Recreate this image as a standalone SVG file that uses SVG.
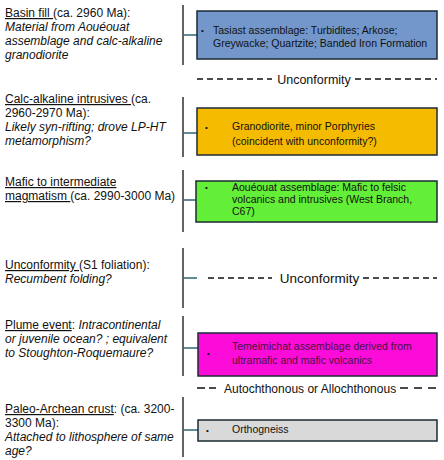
<svg xmlns="http://www.w3.org/2000/svg" width="444" height="460" viewBox="0 0 444 460">
<style>
text{font-family:"Liberation Sans",Arial,sans-serif;fill:#111}
.lt{font-size:12px}
.it{font-style:italic}
.u{text-decoration:underline}
.bt{font-size:10.5px}
.bul{font-size:8px}
.box{stroke:#1d2b33;stroke-width:1.5}
.vl{stroke:#111;stroke-width:1.3;fill:none}
.cn{stroke:#2f6575;stroke-width:1.6;fill:none}
.dash{stroke:#111;stroke-width:1.5;stroke-dasharray:6 4;fill:none}
.sep{font-size:12.5px}
</style>
<rect width="444" height="460" fill="#fff"/>
<g id="connectors">
<path class="vl" d="M183 5V65M183 97V157M183 170V232M183 248V308M183 316V376M183 397V457"/>
<path class="cn" d="M183 35H197M183 133H197M183 200H196M183 278H197M183 348H198M183 430H198"/>
</g>
<g id="label-basin">
<text class="lt" x="5" y="17"><tspan class="u">Basin fill </tspan>(ca. 2960 Ma):</text>
<text class="lt it" x="5" y="31">Material from Aouéouat</text>
<text class="lt it" x="5" y="45">assemblage and calc-alkaline</text>
<text class="lt it" x="5" y="59">granodiorite</text>
</g>
<g id="label-calc">
<text class="lt" x="5" y="103"><tspan class="u">Calc-alkaline intrusives </tspan>(ca.</text>
<text class="lt" x="5" y="117">2960-2970 Ma):</text>
<text class="lt it" x="5" y="131">Likely syn-rifting; drove LP-HT</text>
<text class="lt it" x="5" y="145">metamorphism?</text>
</g>
<g id="label-mafic">
<text class="lt" x="5" y="186"><tspan class="u">Mafic to intermediate</tspan></text>
<text class="lt" x="5" y="200"><tspan class="u">magmatism </tspan>(ca. 2990-3000 Ma)</text>
</g>
<g id="label-unconf">
<text class="lt" x="5" y="269"><tspan class="u">Unconformity </tspan>(S1 foliation):</text>
<text class="lt it" x="5" y="283">Recumbent folding?</text>
</g>
<g id="label-plume">
<text class="lt" x="5" y="329"><tspan class="u">Plume event</tspan>: <tspan class="it">Intracontinental</tspan></text>
<text class="lt it" x="5" y="343">or juvenile ocean? ; equivalent</text>
<text class="lt it" x="5" y="357">to Stoughton-Roquemaure?</text>
</g>
<g id="label-paleo">
<text class="lt" x="5" y="413"><tspan class="u">Paleo-Archean crust</tspan>: (ca. 3200-</text>
<text class="lt" x="5" y="427">3300 Ma):</text>
<text class="lt it" x="5" y="441">Attached to lithosphere of same</text>
<text class="lt it" x="5" y="455">age?</text>
</g>
<g id="box-tasiast">
<rect class="box" x="197" y="11" width="240" height="48" fill="#7397cb"/>
<text class="bul" x="201" y="33">•</text>
<text class="bt" x="213" y="34">Tasiast assemblage: Turbidites; Arkose;</text>
<text class="bt" x="213" y="47">Greywacke; Quartzite; Banded Iron Formation</text>
</g>
<g id="sep-1">
<path class="dash" d="M197 79H272M355 79H437"/>
<text class="sep" x="314" y="83.5" text-anchor="middle">Unconformity</text>
</g>
<g id="box-granodiorite">
<rect class="box" x="197" y="108" width="240" height="47" fill="#f5bb00"/>
<text class="bul" x="205" y="130">•</text>
<text class="bt" x="232" y="129.5">Granodiorite, minor Porphyries</text>
<text class="bt" x="232" y="144.5">(coincident with unconformity?)</text>
</g>
<g id="box-aoueouat">
<rect class="box" x="196" y="181" width="241" height="41" fill="#63ee38"/>
<text class="bul" x="205" y="190">•</text>
<text class="bt" x="232" y="191">Aouéouat assemblage: Mafic to felsic</text>
<text class="bt" x="232" y="203">volcanics and intrusives (West Branch,</text>
<text class="bt" x="232" y="215">C67)</text>
</g>
<g id="sep-2">
<path class="dash" d="M208 278H272M363 278H437"/>
<text class="sep" x="319.5" y="283" text-anchor="middle" style="font-size:13.5px">Unconformity</text>
</g>
<g id="box-temeimichat">
<rect class="box" x="198" y="333" width="239" height="43" fill="#fb0cd8"/>
<text class="bul" x="207" y="356">•</text>
<text class="bt" x="232" y="350" style="fill:#4a1040">Temeimichat assemblage derived from</text>
<text class="bt" x="232" y="364" style="fill:#4a1040">ultramafic and mafic volcanics</text>
</g>
<g id="sep-3">
<path class="dash" d="M197 388H216" style="stroke-dasharray:8 4"/>
<path class="dash" d="M400 388H437" style="stroke-dasharray:8 6"/>
<text class="sep" x="224" y="392.5" style="font-size:12px">Autochthonous or Allochthonous</text>
</g>
<g id="box-orthogneiss">
<rect class="box" x="198" y="420" width="239" height="21" fill="#d9d9d9"/>
<text class="bul" x="206" y="433">•</text>
<text class="bt" x="232" y="433">Orthogneiss</text>
</g>
</svg>
